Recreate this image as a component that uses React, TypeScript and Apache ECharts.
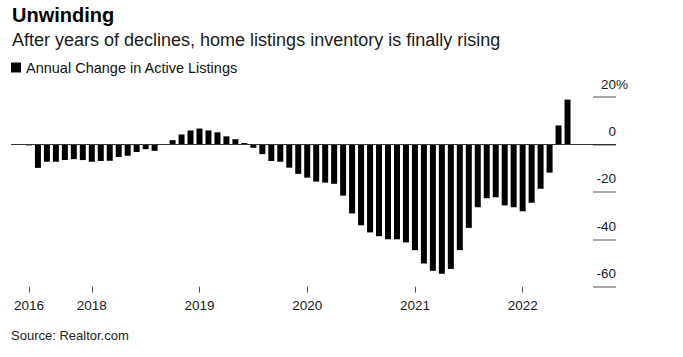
import React, { useEffect, useRef } from "react";
import * as echarts from "echarts";

const months: string[] = [
  "2017-06", "2017-07", "2017-08", "2017-09", "2017-10", "2017-11", "2017-12",
  "2018-01", "2018-02", "2018-03", "2018-04", "2018-05", "2018-06", "2018-07", "2018-08", "2018-09", "2018-10", "2018-11", "2018-12",
  "2019-01", "2019-02", "2019-03", "2019-04", "2019-05", "2019-06", "2019-07", "2019-08", "2019-09", "2019-10", "2019-11", "2019-12",
  "2020-01", "2020-02", "2020-03", "2020-04", "2020-05", "2020-06", "2020-07", "2020-08", "2020-09", "2020-10", "2020-11", "2020-12",
  "2021-01", "2021-02", "2021-03", "2021-04", "2021-05", "2021-06", "2021-07", "2021-08", "2021-09", "2021-10", "2021-11", "2021-12",
  "2022-01", "2022-02", "2022-03", "2022-04", "2022-05", "2022-06",
];

const annualChange: number[] = [
  -0.4, -9.9, -7.3, -7.3, -6.6, -6.2, -6.6,
  -7.3, -7.0, -6.9, -5.3, -4.8, -3.2, -2.0, -2.7, -0.2, 1.8, 4.2, 5.9,
  6.7, 5.9, 5.1, 3.4, 2.2, 0.6, -1.4, -4.1, -7.0, -7.3, -9.8, -12.4,
  -14.0, -15.7, -16.1, -16.6, -21.6, -29.1, -34.1, -37.1, -38.7, -40.0, -40.0, -41.3,
  -44.6, -50.2, -53.3, -54.5, -52.5, -44.6, -35.2, -26.5, -22.7, -22.3, -25.7, -26.5,
  -28.2, -24.6, -18.7, -11.9, 8.0, 18.9,
];

const tickMonths: string[] = ["2017-06", "2018-01", "2019-01", "2020-01", "2021-01", "2022-01"];
const tickLabels: string[] = ["2016", "2018", "2019", "2020", "2021", "2022"];

const seriesName = "Annual Change in Active Listings";
const FONT = "'Liberation Sans', Arial, Helvetica, sans-serif";

export default function App() {
  const ref = useRef<HTMLDivElement>(null);

  useEffect(() => {
    if (!ref.current) return;
    const chart = echarts.init(ref.current, null, { renderer: "svg" });
    const tickIdx = tickMonths.map((m) => months.indexOf(m));
    const data = annualChange.map((v, i) => [i, v]);

    chart.setOption({
      animation: false,
      backgroundColor: "#ffffff",
      textStyle: { fontFamily: FONT },
      title: [
        {
          text: "Unwinding",
          left: 12,
          top: 5,
          padding: 0,
          textStyle: { fontSize: 20, fontWeight: "bold", color: "#000", fontFamily: FONT },
        },
        {
          text: "After years of declines, home listings inventory is finally rising",
          left: 12,
          top: 31,
          padding: 0,
          textStyle: { fontSize: 18, fontWeight: "normal", color: "#1a1a1a", fontFamily: FONT },
        },
        {
          text: "Source: Realtor.com",
          left: 11,
          top: 329,
          padding: 0,
          textStyle: { fontSize: 13, fontWeight: "normal", color: "#222", fontFamily: FONT },
        },
      ],
      legend: {
        show: true,
        data: [seriesName],
        left: 11,
        top: 60,
        padding: 0,
        icon: "rect",
        itemWidth: 10,
        itemHeight: 10,
        itemGap: 5,
        selectedMode: false,
        textStyle: { fontSize: 14.5, color: "#111", fontFamily: FONT },
      },
      grid: { left: 11, right: 67, top: 97, bottom: 70.3, containLabel: false },
      xAxis: {
        type: "value",
        min: -2,
        max: 65.4,
        position: "bottom",
        axisLine: { show: false, onZero: false },
        splitLine: { show: false },
        axisTick: {
          show: true,
          customValues: tickIdx,
          length: 6,
          lineStyle: { color: "#555", width: 1 },
        },
        axisLabel: {
          show: true,
          customValues: tickIdx,
          formatter: (v: number) => {
            const k = tickIdx.indexOf(Math.round(v));
            return k >= 0 ? tickLabels[k] : "";
          },
          fontSize: 13.5,
          color: "#1a1a1a",
          margin: 12,
          fontFamily: FONT,
        },
      },
      yAxis: {
        type: "value",
        position: "right",
        offset: -23,
        min: -60,
        max: 20,
        interval: 20,
        splitLine: { show: false },
        axisLine: { show: false, onZero: false },
        axisTick: {
          show: true,
          inside: false,
          length: 23,
          lineStyle: { color: "#8c8c8c", width: 1.5 },
        },
        axisLabel: {
          show: true,
          inside: false,
          margin: 35,
          align: "right",
          verticalAlign: "bottom",
          padding: [0, 0, 6, 0],
          lineHeight: 14,
          formatter: (v: number) => (v === 20 ? "{n|20%}" : "{n|" + v + "}{s| }"),
          rich: {
            n: { fontSize: 13.5, color: "#1a1a1a", fontFamily: FONT, lineHeight: 14 },
            s: { fontSize: 13.5, width: 12, lineHeight: 14 },
          },
        },
      },
      series: [
        {
          name: seriesName,
          type: "bar",
          data,
          barWidth: 6,
          itemStyle: { color: "#000" },
          markLine: {
            silent: true,
            symbol: ["none", "none"],
            label: { show: false },
            lineStyle: { color: "#333", width: 1, type: "solid" },
            data: [{ yAxis: 0 }],
          },
        },
      ],
    });

    return () => chart.dispose();
  }, []);

  return (
    <div
      ref={ref}
      style={{ position: "fixed", left: 0, top: 0, width: 683, height: 357, background: "#fff" }}
    />
  );
}
